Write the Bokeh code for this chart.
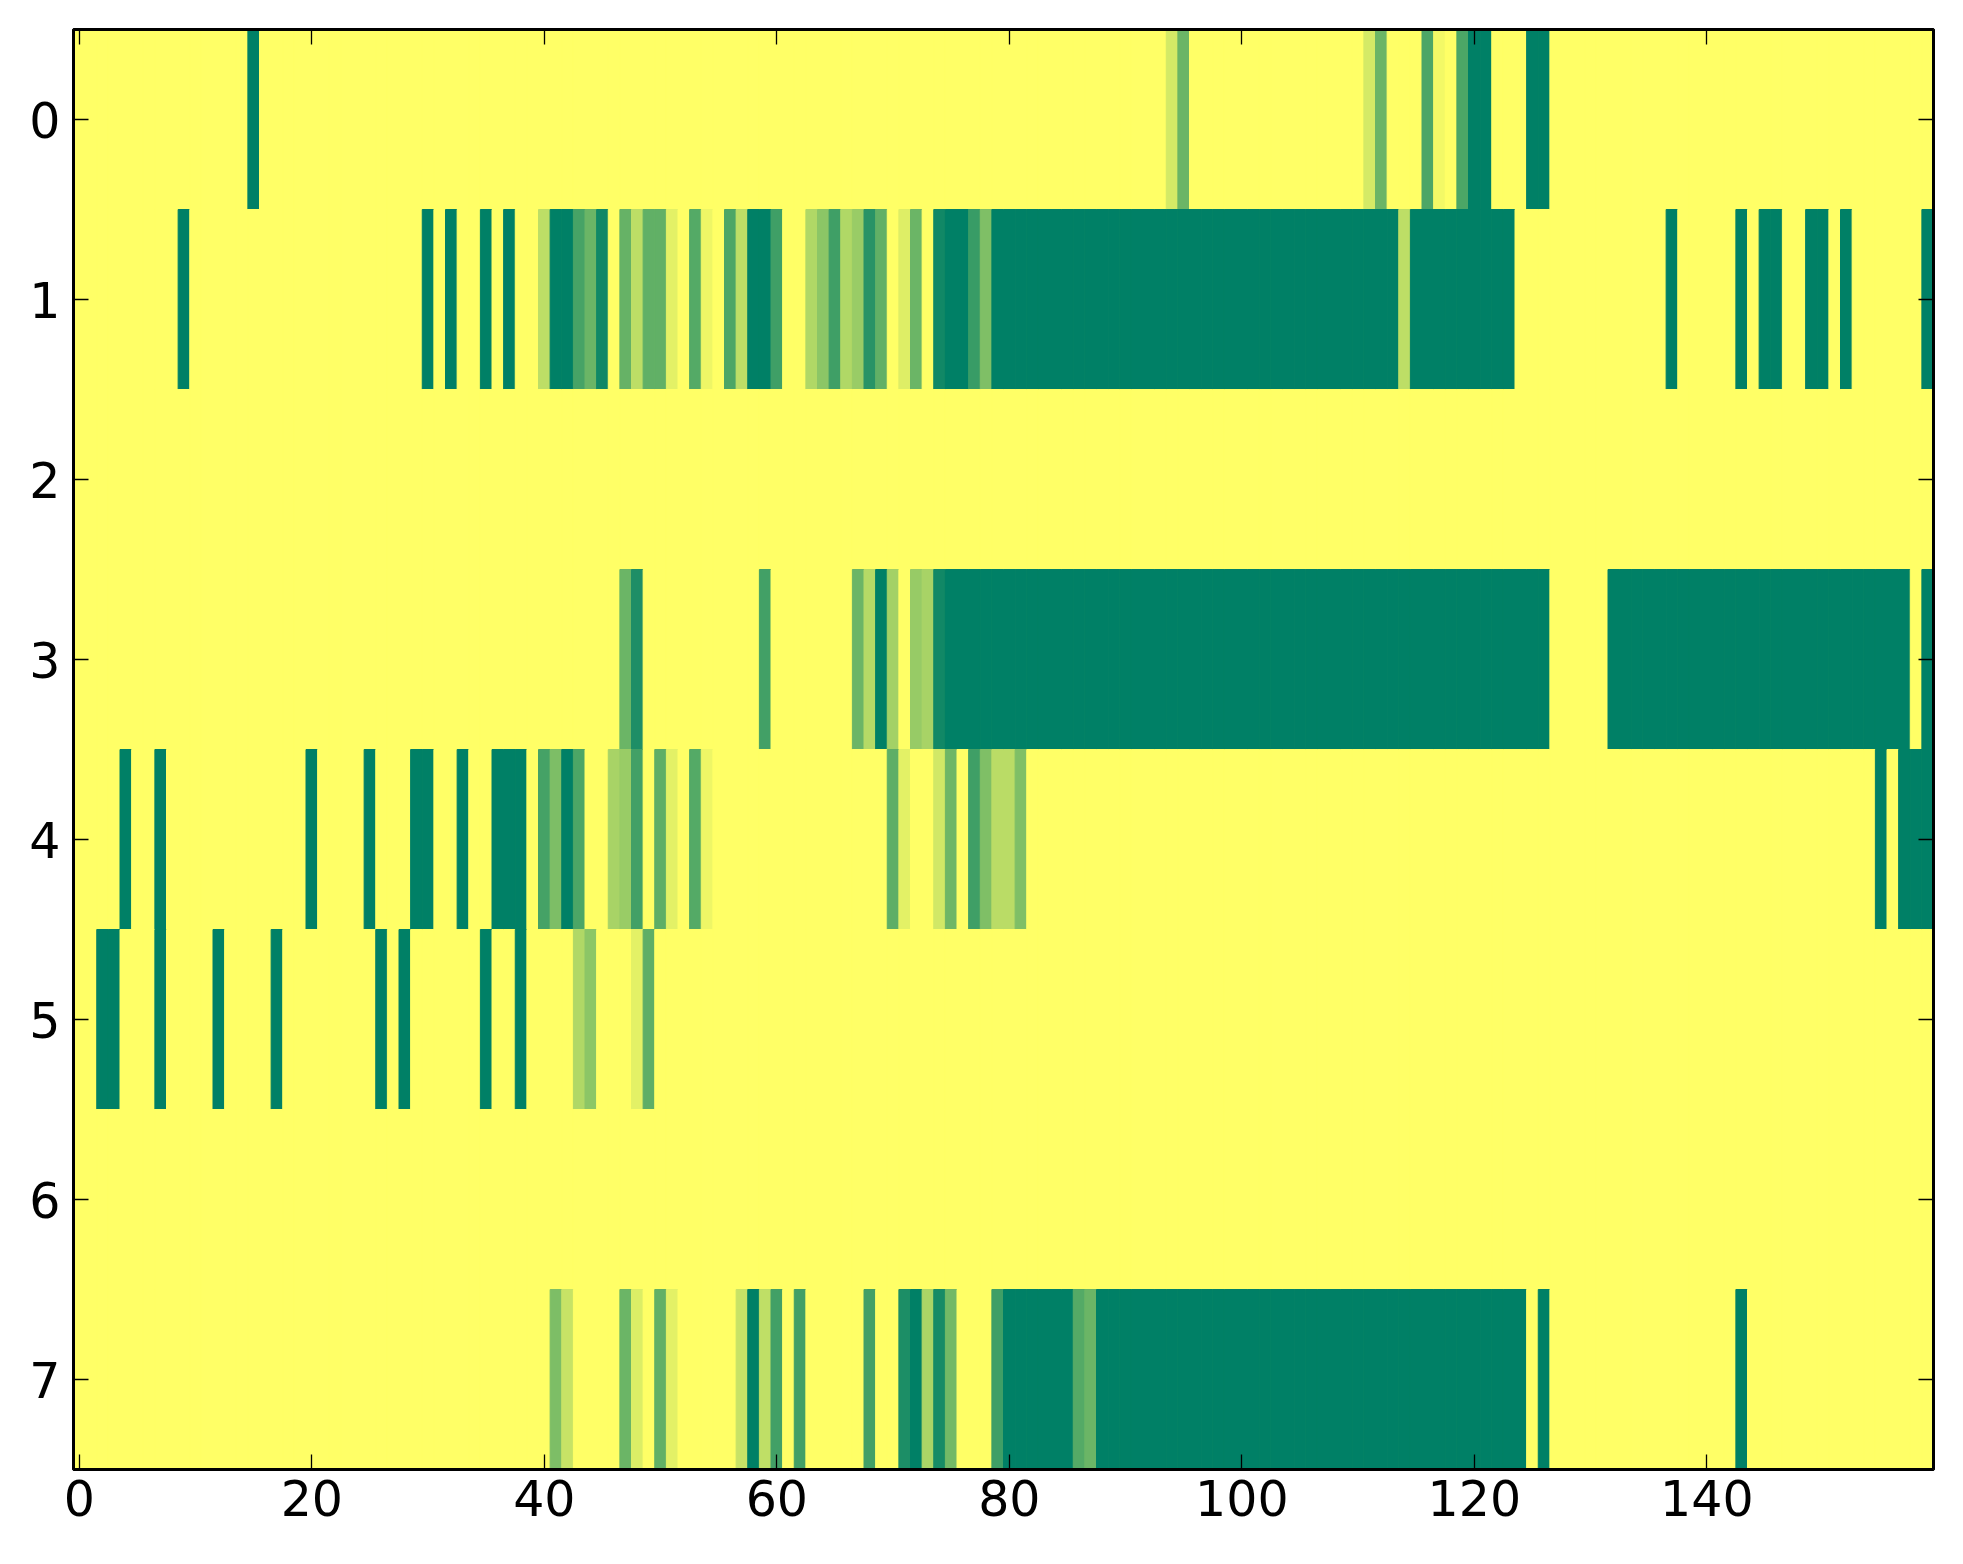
from bokeh.plotting import figure
from bokeh.models import (LinearColorMapper, Range1d, LinearAxis, FixedTicker, ColumnDataSource,
                          CustomLabelingPolicy)
from bokeh.embed import file_html
from bokeh.resources import INLINE

n_rows = 8
n_cols = 160
x_ticks = [0, 20, 40, 60, 80, 100, 120, 140]
y_ticks = [0, 1, 2, 3, 4, 5, 6, 7]

# runs per row: (first column, last column, value); all other cells are 0
row0 = [(15, 15, 1.0), (94, 94, 0.17), (95, 95, 0.58), (111, 111, 0.17), (112, 112, 0.58),
        (116, 116, 0.70), (117, 117, 0.05), (119, 119, 0.70), (120, 121, 1.0), (125, 126, 1.0)]
row1 = [(9, 9, 1.0), (30, 30, 1.0), (32, 32, 1.0), (35, 35, 1.0), (37, 37, 1.0), (40, 40, 0.26),
        (41, 42, 1.0), (43, 43, 0.72), (44, 44, 0.58), (45, 45, 0.93), (47, 47, 0.60), (48, 48, 0.26),
        (49, 50, 0.62), (51, 51, 0.11), (53, 53, 0.67), (54, 54, 0.07), (56, 56, 0.70), (57, 57, 0.26),
        (58, 59, 1.0), (60, 60, 0.75), (63, 63, 0.31), (64, 64, 0.45), (65, 65, 0.75), (66, 66, 0.31),
        (67, 67, 0.40), (68, 68, 0.84), (69, 69, 0.62), (71, 71, 0.13), (72, 72, 0.58), (74, 74, 0.93),
        (75, 76, 1.0), (77, 77, 0.78), (78, 78, 0.50), (79, 113, 1.0), (114, 114, 0.26), (115, 123, 1.0),
        (137, 137, 1.0), (143, 143, 1.0), (145, 146, 1.0), (149, 150, 1.0), (152, 152, 1.0), (159, 159, 1.0)]
row2 = []
row3 = [(47, 47, 0.58), (48, 48, 0.88), (59, 59, 0.74), (67, 67, 0.58), (68, 68, 0.29), (69, 69, 1.0),
        (70, 70, 0.36), (72, 72, 0.41), (73, 73, 0.34), (74, 74, 0.93), (75, 126, 1.0), (132, 157, 1.0),
        (159, 159, 1.0)]
row4 = [(4, 4, 1.0), (7, 7, 1.0), (20, 20, 1.0), (25, 25, 1.0), (29, 30, 1.0), (33, 33, 1.0), (36, 38, 1.0),
        (40, 40, 0.73), (41, 41, 0.51), (42, 42, 1.0), (43, 43, 0.70), (46, 46, 0.34), (47, 47, 0.40),
        (48, 48, 0.74), (50, 50, 0.63), (51, 51, 0.11), (53, 53, 0.67), (54, 54, 0.07), (70, 70, 0.63),
        (71, 71, 0.11), (74, 74, 0.18), (75, 75, 0.57), (77, 77, 0.75), (78, 78, 0.50), (79, 80, 0.27),
        (81, 81, 0.50), (155, 155, 1.0), (157, 159, 1.0)]
row5 = [(2, 3, 1.0), (7, 7, 1.0), (12, 12, 1.0), (17, 17, 1.0), (26, 26, 1.0), (28, 28, 1.0), (35, 35, 1.0),
        (38, 38, 1.0), (43, 43, 0.31), (44, 44, 0.45), (48, 48, 0.11), (49, 49, 0.63)]
row6 = []
row7 = [(41, 41, 0.51), (42, 42, 0.22), (47, 47, 0.58), (48, 48, 0.14), (50, 50, 0.62), (51, 51, 0.11),
        (57, 57, 0.22), (58, 58, 1.0), (59, 59, 0.25), (60, 60, 0.74), (62, 62, 0.74), (68, 68, 0.74),
        (71, 71, 0.89), (72, 72, 1.0), (73, 73, 0.33), (74, 74, 0.91), (75, 75, 0.55), (79, 79, 0.75),
        (80, 85, 1.0), (86, 86, 0.67), (87, 87, 0.58), (88, 124, 1.0), (126, 126, 1.0), (143, 143, 1.0)]
rows = [row0, row1, row2, row3, row4, row5, row6, row7]

# matplotlib "summer_r" colormap
palette = []
for i in range(256):
    v = i / 255.0
    r, g, b = 1.0 - v, 1.0 - 0.5 * v, 0.4
    palette.append("#%02x%02x%02x" % (round(r * 255), round(g * 255), round(b * 255)))
mapper = LinearColorMapper(palette=palette, low=0.0, high=1.0)

grid = [[0.0] * n_cols for _ in range(n_rows)]
for r, runs in enumerate(rows):
    for c0, c1, val in runs:
        for c in range(c0, c1 + 1):
            grid[r][c] = val

xs, ys, vs = [], [], []
for r in range(n_rows):
    for c in range(n_cols):
        xs.append(c)
        ys.append(r)
        vs.append(grid[r][c])
src = ColumnDataSource(dict(x=xs, y=ys, v=vs))

p = figure(frame_width=1860, frame_height=1440,
           x_range=Range1d(-0.5, n_cols - 0.5), y_range=Range1d(n_rows - 0.5, -0.5),
           output_backend="svg", toolbar_location=None,
           min_border_left=73, min_border_right=12, min_border_top=29, min_border_bottom=70)
p.background_fill_color = palette[0]
p.border_fill_color = "white"
p.grid.visible = False
p.outline_line_color = "black"
p.outline_line_width = 3

p.rect(x="x", y="y", width=1, height=1, source=src,
       fill_color={"field": "v", "transform": mapper},
       line_color={"field": "v", "transform": mapper}, line_width=1)

p.xaxis.ticker = FixedTicker(ticks=x_ticks)
p.yaxis.ticker = FixedTicker(ticks=y_ticks)

hide_labels = "try { for (const i of indices) { indices.unset(i) } } catch (e) {} return indices"
top = LinearAxis(ticker=FixedTicker(ticks=x_ticks), major_label_text_font_size="0px",
                 major_label_standoff=0, major_label_policy=CustomLabelingPolicy(code=hide_labels))
right = LinearAxis(ticker=FixedTicker(ticks=y_ticks), major_label_text_font_size="0px",
                   major_label_standoff=0, major_label_policy=CustomLabelingPolicy(code=hide_labels))
p.add_layout(top, "above")
p.add_layout(right, "right")

for ax in p.axis:
    ax.major_tick_in = 15
    ax.major_tick_out = 0
    ax.minor_tick_in = 0
    ax.minor_tick_out = 0
    ax.axis_line_width = 3
    ax.axis_line_color = "black"
    ax.major_tick_line_width = 1.3
    ax.major_tick_line_color = "black"
    ax.major_label_text_font = "DejaVu Sans"
    ax.major_label_text_color = "black"

p.below[0].major_label_text_font_size = "49px"
p.below[0].major_label_standoff = 10
p.left[0].major_label_text_font_size = "49px"
p.left[0].major_label_standoff = 13

open("out.html", "w").write(file_html(p, INLINE))
